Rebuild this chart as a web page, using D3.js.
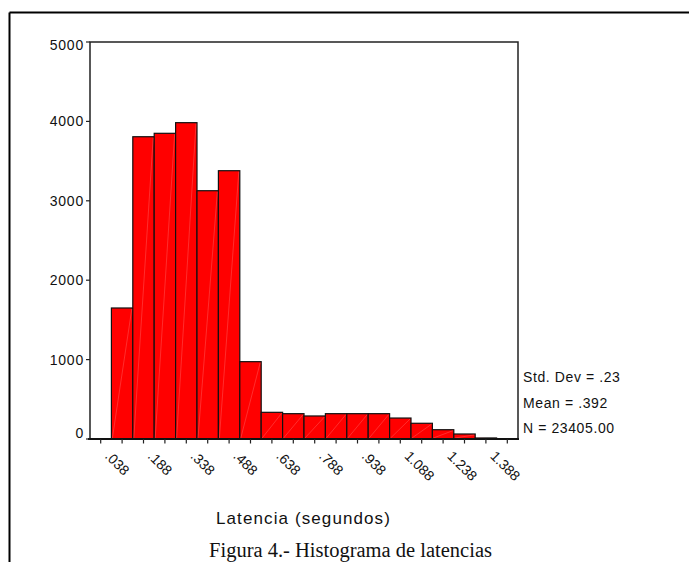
<!DOCTYPE html>
<html><head><meta charset="utf-8">
<script src="https://cdn.jsdelivr.net/npm/d3@7"></script>
<style>
html,body{margin:0;padding:0;background:#fff;}
svg{display:block;}
</style></head>
<body>
<svg id="c" width="689" height="562"></svg>
<script>
// ---- data ----
const binWidth = 0.075;
const counts = [0, 1650, 3807, 3850, 3984, 3127, 3379, 974, 336, 319, 290, 319, 319, 319, 264, 198, 117, 63, 13, 0];
const xTickLabels = [".038", ".188", ".338", ".488", ".638", ".788", ".938", "1.088", "1.238", "1.388"];
const yTicks = [0, 1000, 2000, 3000, 4000, 5000];
const statLines = ["Std. Dev = .23", "Mean = .392", "N = 23405.00"];
const xTitle = "Latencia (segundos)";
const caption = "Figura 4.- Histograma de latencias";

// ---- layout ----
const svg = d3.select("#c");
const L = 90, R = 518, T = 42, B = 439;
const x = d3.scaleLinear().domain([0, binWidth * counts.length]).range([L, R]);
const y = d3.scaleLinear().domain([0, 5000]).range([B, T]);
const font = "Arial, 'Liberation Sans', sans-serif";

// outer frame
svg.append("line").attr("x1", 9.5).attr("x2", 689).attr("y1", 12.5).attr("y2", 12.5)
  .attr("stroke", "#000").attr("stroke-width", 2);
svg.append("line").attr("x1", 9.5).attr("x2", 9.5).attr("y1", 12.5).attr("y2", 562)
  .attr("stroke", "#000").attr("stroke-width", 2);

// bars
const bars = counts.map((c, i) => ({c, x0: i * binWidth, x1: (i + 1) * binWidth})).filter(d => d.c > 0);
const g = svg.append("g");
g.selectAll("rect.bar").data(bars).enter().append("rect")
  .attr("class", "bar")
  .attr("x", d => x(d.x0)).attr("width", d => x(d.x1) - x(d.x0))
  .attr("y", d => y(d.c)).attr("height", d => y(0) - y(d.c))
  .attr("fill", "#ff0000").attr("stroke", "#111").attr("stroke-width", 1.2);
g.selectAll("line.diag").data(bars).enter().append("line")
  .attr("class", "diag")
  .attr("x1", d => x(d.x0) + 1).attr("y1", y(0) - 1)
  .attr("x2", d => x(d.x1) - 1).attr("y2", d => y(d.c) + 1)
  .attr("stroke", "#ff8080").attr("stroke-width", 0.5).attr("stroke-opacity", 0.7);

// plot frame
svg.append("path")
  .attr("d", `M${L},${B} L${L},${T} L${R},${T} L${R},${B}`)
  .attr("fill", "none").attr("stroke", "#222").attr("stroke-width", 1.5);
svg.append("line").attr("x1", L - 2).attr("x2", R + 1).attr("y1", B).attr("y2", B)
  .attr("stroke", "#111").attr("stroke-width", 1.8);

// y axis ticks + labels
svg.selectAll("line.yt").data(yTicks).enter().append("line")
  .attr("x1", L - 4).attr("x2", L).attr("y1", d => y(d)).attr("y2", d => y(d))
  .attr("stroke", "#222").attr("stroke-width", 1.2);
svg.selectAll("text.yl").data(yTicks).enter().append("text")
  .attr("x", L - 6)
  .attr("y", d => Math.max(T + 3, Math.min(B - 6.5, y(d))))
  .attr("dy", "0.36em")
  .attr("text-anchor", "end")
  .attr("font-family", font).attr("font-size", 14).attr("letter-spacing", "0.8px")
  .attr("fill", "#111")
  .text(d => d);

// x axis ticks (at every bin centre)
const centers = counts.map((c, i) => (i + 0.5) * binWidth);
svg.selectAll("line.xt").data(centers).enter().append("line")
  .attr("x1", d => x(d)).attr("x2", d => x(d)).attr("y1", B).attr("y2", B + 4.5)
  .attr("stroke", "#222").attr("stroke-width", 1.2);
svg.selectAll("text.xl").data(xTickLabels).enter().append("text")
  .attr("transform", (d, i) => `translate(${x(centers[i * 2]) + 3.5},${B + 18}) rotate(45)`)
  .attr("text-anchor", "start")
  .attr("font-family", font).attr("font-size", 14)
  .attr("fill", "#111")
  .text(d => d);

// stats
svg.selectAll("text.st").data(statLines).enter().append("text")
  .attr("x", R + 5).attr("y", (d, i) => 382 + i * 25.5)
  .attr("font-family", font).attr("font-size", 14).attr("letter-spacing", "0.6px")
  .attr("fill", "#111")
  .text(d => d);

// axis title
svg.append("text").attr("x", 303.5).attr("y", 524).attr("text-anchor", "middle")
  .attr("font-family", font).attr("font-size", 17).attr("letter-spacing", "1.1px")
  .attr("fill", "#111").text(xTitle);

// caption
svg.append("text").attr("x", 350.5).attr("y", 556.5).attr("text-anchor", "middle")
  .attr("font-family", "'Liberation Serif', 'Times New Roman', serif").attr("font-size", 20.5)
  .attr("fill", "#111").text(caption);
</script>
</body></html>
